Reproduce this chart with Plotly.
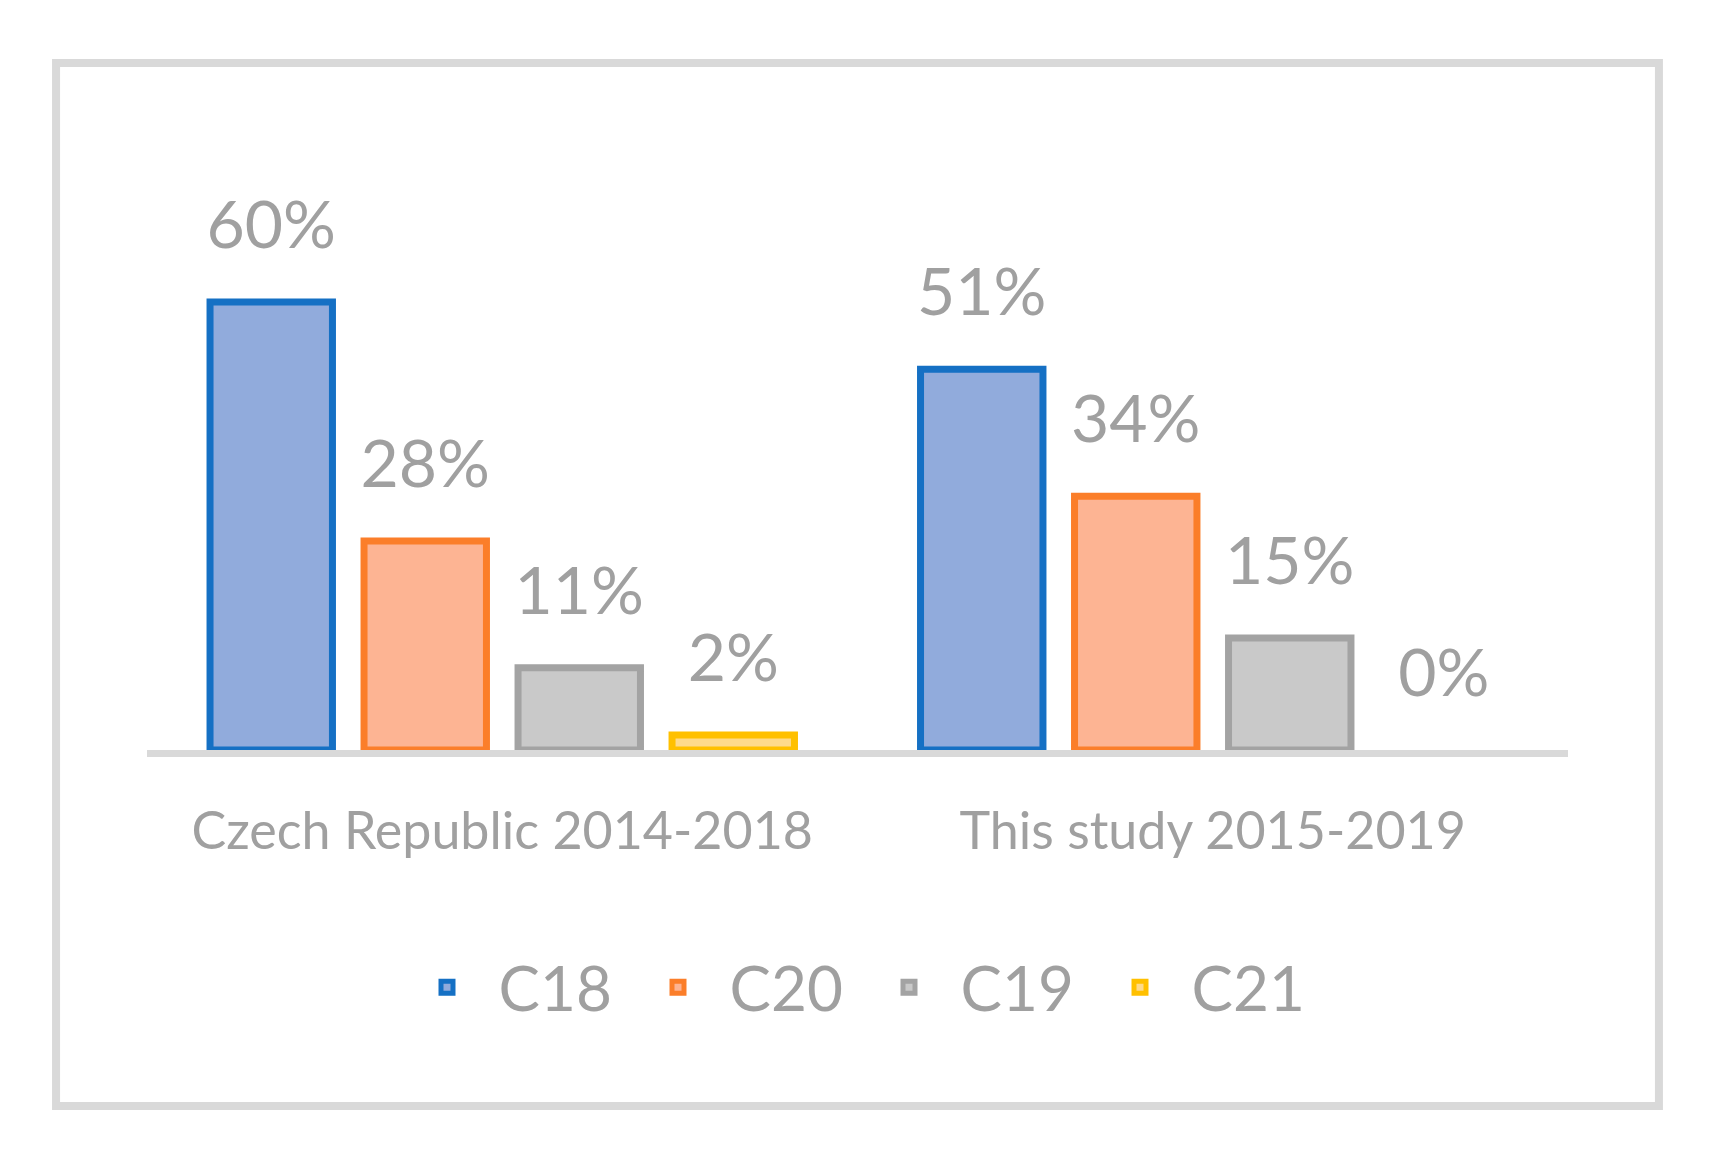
import plotly.graph_objects as go

categories = ["Czech Republic 2014-2018", "This study 2015-2019"]
series_names = ["C18", "C20", "C19", "C21"]
c18 = [60, 51]
c20 = [28, 34]
c19 = [11, 15]
c21 = [2, 0]

values = [c18, c20, c19, c21]
fill_colors = ["#91ABDC", "#FDB493", "#C9C9C9", "#FEDA8C"]
line_colors = ["#1570C4", "#FB7E2A", "#A3A3A3", "#FFC000"]

FONT = "Lato"
TXT = "#A0A0A0"

fig = go.Figure()
for name, vals, fc, lc in zip(series_names, values, fill_colors, line_colors):
    fig.add_trace(go.Bar(
        x=categories, y=vals, name=name,
        marker=dict(color=fc, line=dict(color=lc, width=[7 if v > 0 else 0 for v in vals])),
        offsetgroup=name, hoverinfo="skip",
    ))
for name, vals in zip(series_names, values):
    fig.add_trace(go.Scatter(
        x=categories, y=vals, mode="markers+text",
        text=[f"{v}%" for v in vals], textposition="top center",
        textfont=dict(family=FONT, size=66, color=TXT),
        marker=dict(size=58, opacity=0),
        offsetgroup=name, showlegend=False, hoverinfo="skip", cliponaxis=False,
    ))

fig.update_layout(
    width=1721, height=1169,
    margin=dict(l=139, r=161, t=182, b=427),
    paper_bgcolor="white", plot_bgcolor="white",
    barmode="group", bargap=0.133, bargroupgap=0.205,
    scattermode="group", scattergap=0.133,
    font=dict(family=FONT, color=TXT),
    showlegend=True,
    legend=dict(orientation="h", x=0.5, xanchor="center", y=-0.424, yanchor="middle",
                font=dict(family=FONT, size=62, color=TXT),
                entrywidth=123, itemwidth=93, traceorder="normal"),
    shapes=[dict(type="rect", xref="paper", yref="paper",
                 x0=-0.064, x1=1.064, y0=-0.6357, y1=1.2268,
                 line=dict(color="#D9D9D9", width=8), layer="below")],
)
fig.update_xaxes(showgrid=False, ticks="", showline=True, linecolor="#D9D9D9", linewidth=7,
                 tickfont=dict(family=FONT, size=52, color=TXT), ticklabelstandoff=30,
                 zeroline=False, fixedrange=True)
fig.update_yaxes(visible=False, range=[0, 75], showgrid=False, zeroline=False, fixedrange=True)

fig.write_html("out.html")
